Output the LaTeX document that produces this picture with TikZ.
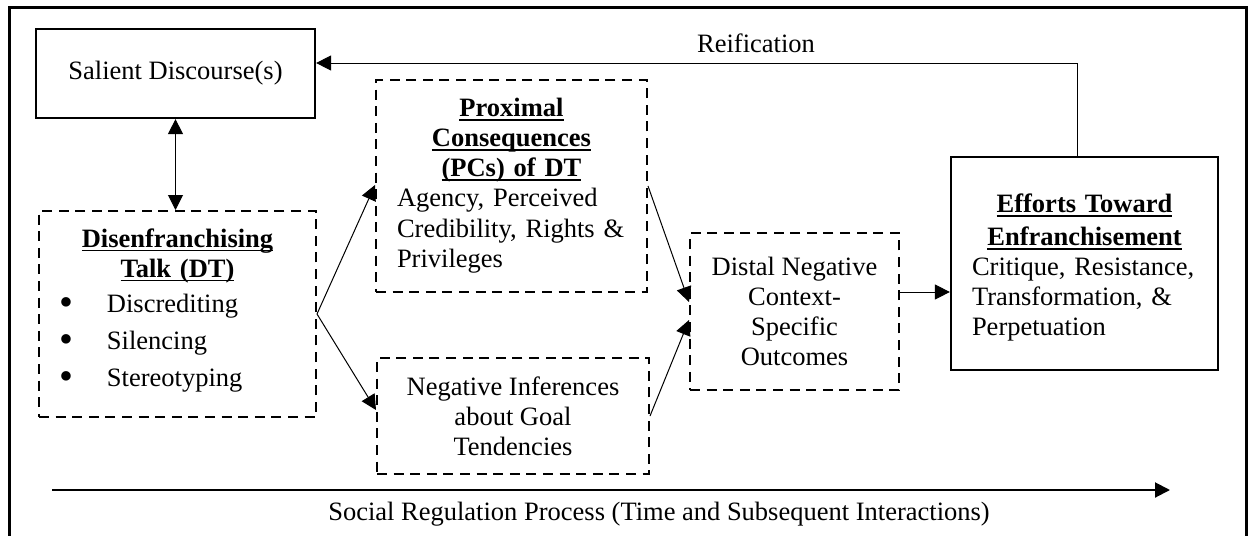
\documentclass[tikz,border=0pt]{standalone}
\usepackage{fontspec}
\setmainfont{Liberation Serif}
\usetikzlibrary{arrows.meta}

% bold underlined heading line
\newsavebox{\hdbox}
\newcommand{\hdline}[1]{\leavevmode\sbox{\hdbox}{\textbf{#1}}\rlap{\rule[-2pt]{\wd\hdbox}{0.85pt}}\usebox{\hdbox}}
% bulleted entry with a hanging bullet
\newcommand{\bitem}[1]{\hspace*{11pt}\makebox[5pt]{\raisebox{-0.25ex}{\scalebox{1.5}{\textbullet}}}\hspace*{18pt}#1}

\tikzset{
  base font/.style={font=\fontsize{13.25}{15}\selectfont},
  solidbox/.style={draw, line width=1.1pt, inner sep=0pt, base font},
  dashbox/.style={draw, line width=1pt, dash pattern=on 5pt off 3.3pt, inner sep=0pt, base font},
  boxtext/.style={base font, inner sep=0pt},
  arr/.style={line width=0.5pt, -{Triangle[length=7.5pt,width=7.5pt]}},
  dblarr/.style={line width=0.5pt, {Triangle[length=7.5pt,width=7.5pt]}-{Triangle[length=7.5pt,width=7.5pt]}},
  label text/.style={base font, inner sep=0pt, anchor=base},
}

\begin{document}
\begin{tikzpicture}[x=0.5pt,y=-0.5pt]
  \useasboundingbox (0,0) rectangle (1249,536);
  \clip (0,0) rectangle (1249,536);

  % outer frame (runs past the lower edge)
  \draw[line width=1.3pt] (9.3,560) -- (9.3,7.3) -- (1246.7,7.3) -- (1246.7,560);

  % boxes
  \node[solidbox, minimum width=139.5pt, minimum height=44.5pt] (sal) at (175.5,73.5)
    {Salient Discourse(s)};

  \node[dashbox, minimum width=138.5pt, minimum height=103pt] (dt) at (177.5,314) {};
  \node[boxtext, text width=138.5pt] (dttext) at ([yshift=1.75pt]dt.center)
    {\centering\hdline{Disenfranchising}\\\hdline{Talk (DT)}\par
     \vspace{2.5pt}\raggedright
     \bitem{Discrediting}\\[3.5pt]\bitem{Silencing}\\[3.5pt]\bitem{Stereotyping}\par};

  \node[dashbox, text width=135.5pt, minimum height=106pt] (pc) at (511.5,186)
    {\centering\hdline{Proximal}\\\hdline{Consequences}\\\hdline{(PCs) of DT}\par
     \raggedright\leftskip=10.5pt
     Agency, Perceived\\[0.5pt]Credibility, Rights \&\\Privileges\par};

  \node[dashbox, align=center, minimum width=136pt, minimum height=58pt] (neg) at (513,416)
    {Negative Inferences\\about Goal\\Tendencies};

  \node[dashbox, align=center, minimum width=104.5pt, minimum height=78.5pt] (dist) at (794.5,311.5)
    {Distal Negative\\Context-\\Specific\\Outcomes};

  \node[solidbox, minimum width=133.5pt, minimum height=106.5pt] (eff) at (1084.5,263.5) {};
  \node[boxtext, text width=133.5pt] (efftext) at ([yshift=-2pt]eff.center)
    {\centering\hdline{Efforts Toward}\\[1.5pt]\hdline{Enfranchisement}\par
     \raggedright\leftskip=10.5pt
     Critique, Resistance,\\Transformation, \&\\Perpetuation\par};

  % connectors
  \draw[dblarr] (sal.south) -- (sal.south |- dt.north);
  \draw[arr] (dt.east) -- ([yshift=0.5pt]pc.west);
  \draw[arr] (dt.east) -- ([yshift=3pt]neg.west);
  \draw[arr] (pc.east) -- ([yshift=4.75pt]dist.west);
  \draw[arr] (neg.east) -- ([yshift=-4.25pt]dist.west);
  \draw[arr] ([yshift=9.75pt]dist.east) -- ([yshift=9.75pt]dist.east -| eff.west);

  % reification feedback loop
  \coordinate (turn) at (1077,63);
  \draw[arr] (eff.north -| turn) -- (turn) -- (turn -| sal.east);
  \node[label text] (reif) at (756,52) {Reification};

  % time axis
  \coordinate (tstart) at (52,490);
  \coordinate (tend) at (1170,490);
  \draw[line width=1pt, -{Triangle[length=7.5pt,width=7.5pt]}] (tstart) -- (tend);
  \node[label text] (axis) at (659,520) {Social Regulation Process (Time and Subsequent Interactions)};
\end{tikzpicture}
\end{document}
